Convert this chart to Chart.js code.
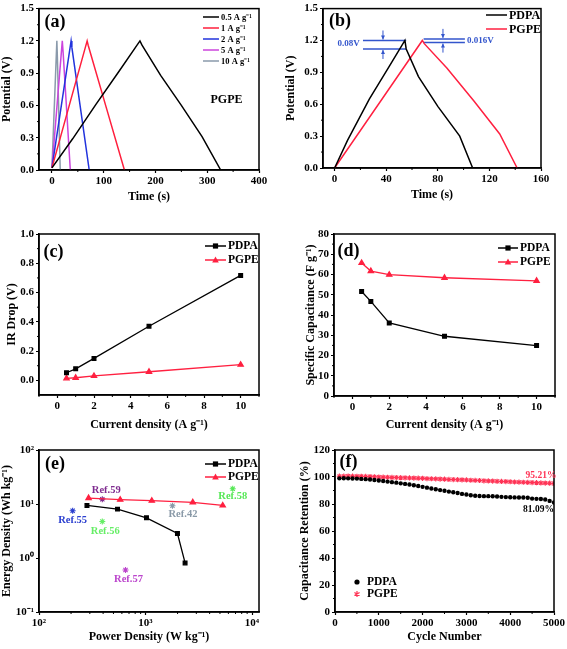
<!DOCTYPE html>
<html>
<head>
<meta charset="utf-8">
<script src="https://cdn.jsdelivr.net/npm/chart.js@4.4.1/dist/chart.umd.min.js"></script>
<style>
  html, body { margin: 0; padding: 0; background: #fff; }
  body { width: 567px; height: 649px; position: relative; overflow: hidden; }
  canvas { position: absolute; }
</style>
</head>
<body>
<canvas id="pa"></canvas>
<canvas id="pb"></canvas>
<canvas id="pc"></canvas>
<canvas id="pd"></canvas>
<canvas id="pe"></canvas>
<canvas id="pf"></canvas>
<script>
// ---- (a) PGPE charge/discharge at different current densities
const aLabels = ['0.5 A g⁻¹', '1 A g⁻¹', '2 A g⁻¹', '5 A g⁻¹', '10 A g⁻¹'];
const aTime05 = [0, 40, 85, 130, 170, 174, 210, 250, 290, 326];
const aPot05 = [0.02, 0.29, 0.61, 0.92, 1.2, 1.16, 0.88, 0.6, 0.31, 0];
const aTime1 = [0, 68, 70, 105, 140];
const aPot1 = [0.02, 1.2, 1.16, 0.58, 0];
const aTime2 = [0, 37, 38.5, 72];
const aPot2 = [0.02, 1.2, 1.14, 0];
const aTime5 = [0, 20, 21.5, 35.5];
const aPot5 = [0.02, 1.2, 1.1, 0];
const aTime10 = [0, 9.5, 10.5, 16];
const aPot10 = [0.02, 1.2, 1.05, 0];
const aXTicks = [0, 100, 200, 300, 400];
const potTicks = [0, 0.3, 0.6, 0.9, 1.2, 1.5];

// ---- (b) PDPA vs PGPE at 2 A g-1
const bTimePDPA = [0, 10, 27, 42, 54.5, 55.5, 65, 80, 97, 107];
const bPotPDPA = [0, 0.26, 0.65, 0.95, 1.2, 1.12, 0.86, 0.58, 0.3, 0];
const bTimePGPE = [0, 34, 68, 69.5, 87, 108, 128, 141.5];
const bPotPGPE = [0, 0.6, 1.2, 1.17, 0.94, 0.63, 0.32, 0];
const bIrSpanPDPA = [22, 55.5];
const bIrLevelsPDPA = [1.2, 1.12];
const bIrSpanPGPE = [69, 101];
const bIrLevelsPGPE = [1.215, 1.18];
const bIrText = ['0.08V', '0.016V'];
const bXTicks = [0, 40, 80, 120, 160];

// ---- (c), (d) vs current density
const currentDensity = [0.5, 1, 2, 5, 10];
const irPDPA = [0.052, 0.079, 0.15, 0.37, 0.717];
const irPGPE = [0.014, 0.018, 0.03, 0.059, 0.107];
const capPDPA = [51.6, 46.7, 36.1, 29.5, 24.9];
const capPGPE = [65.7, 61.7, 59.9, 58.4, 56.9];
const cdTicks = [0, 2, 4, 6, 8, 10];
const irTicks = [0, 0.2, 0.4, 0.6, 0.8, 1.0];
const capTicks = [0, 10, 20, 30, 40, 50, 60, 70, 80];

// ---- (e) Ragone plot
const powPDPA = [282, 546, 1021, 1995, 2353];
const engPDPA = [9.4, 8.04, 5.55, 2.84, 0.81];
const powPGPE = [292, 579, 1146, 2778, 5309];
const engPGPE = [12.9, 12.0, 11.5, 10.7, 9.4];
const refNames = ['Ref.55', 'Ref.59', 'Ref.56', 'Ref.42', 'Ref.58', 'Ref.57'];
const refPower = [207, 393, 393, 1791, 6590, 649];
const refEnergy = [7.5, 12.3, 4.75, 9.3, 19.2, 0.6];
const eXTicks = [100, 1000, 10000];
const eXLabels = ['10²', '10³', '10⁴'];
const eYTicks = [0.1, 1, 10, 100];
const eYLabels = ['10⁻¹', '10⁰', '10¹', '10²'];

// ---- (f) cycling
const fCycles = [100, 200, 300, 400, 500, 600, 700, 800, 900, 1000,
  1100, 1200, 1300, 1400, 1500, 1600, 1700, 1800, 1900, 2000,
  2100, 2200, 2300, 2400, 2500, 2600, 2700, 2800, 2900, 3000,
  3100, 3200, 3300, 3400, 3500, 3600, 3700, 3800, 3900, 4000,
  4100, 4200, 4300, 4400, 4500, 4600, 4700, 4800, 4900, 5000];
const fPDPA = [99.0, 99.1, 99.0, 98.9, 98.8, 98.6, 98.4, 98.1, 97.8, 97.4,
  97.0, 96.6, 96.2, 95.8, 95.3, 94.9, 94.4, 93.9, 93.3, 92.7,
  92.1, 91.5, 90.9, 90.3, 89.8, 89.2, 88.7, 88.1, 87.5, 87.0,
  86.5, 86.1, 85.9, 85.8, 85.8, 85.7, 85.5, 85.3, 85.1, 85.0,
  84.9, 84.8, 84.8, 84.6, 84.0, 83.8, 83.7, 83.3, 82.3, 81.09];
const fPGPE = [100.6, 100.6, 100.7, 100.6, 100.5, 100.5, 100.4, 100.3, 100.2, 100.0,
  99.9, 99.8, 99.7, 99.6, 99.5, 99.4, 99.3, 99.2, 99.1, 99.0,
  98.8, 98.7, 98.6, 98.5, 98.4, 98.2, 98.1, 98.0, 97.9, 97.8,
  97.6, 97.5, 97.4, 97.2, 97.1, 97.0, 96.8, 96.7, 96.6, 96.5,
  96.3, 96.2, 96.1, 96.0, 95.9, 95.8, 95.6, 95.5, 95.4, 95.21];
const fXTicks = [0, 1000, 2000, 3000, 4000, 5000];
const fYTicks = [0, 20, 40, 60, 80, 100, 120];

// ---- styles
const FONT = '"Liberation Serif", "Times New Roman", serif';
const RED = '#ff2040';
const BLUE = '#3355cc';
const aColors = ['#000000', '#ff1f3d', '#2233dd', '#cc44dd', '#8a9aab'];
const refColors = ['#2b3fcf', '#7f2b8f', '#66ee66', '#8a9aa8', '#55e855', '#bb44cc'];
const refLabelOffset = [[0, 10], [4, -9], [3, 9.5], [10.5, 8.5], [0, 8], [3, 9.3]];

const pts = (xs, ys) => xs.map((x, i) => ({ x: x, y: ys[i] }));

function marker(ctx, style, x, y, r, color) {
  ctx.save();
  ctx.fillStyle = color; ctx.strokeStyle = color; ctx.lineWidth = 1.2;
  ctx.beginPath();
  if (style === 'rect') {
    ctx.fillRect(x - r, y - r, 2 * r, 2 * r);
  } else if (style === 'triangle') {
    ctx.moveTo(x, y - r * 1.2); ctx.lineTo(x + r * 1.1, y + r * 0.8); ctx.lineTo(x - r * 1.1, y + r * 0.8);
    ctx.closePath(); ctx.fill();
  } else if (style === 'circle') {
    ctx.arc(x, y, r, 0, Math.PI * 2); ctx.fill();
  } else if (style === 'star') {
    for (let k = 0; k < 3; k++) {
      const a = Math.PI / 2 + k * Math.PI / 3;
      ctx.moveTo(x + r * Math.cos(a), y - r * Math.sin(a));
      ctx.lineTo(x - r * Math.cos(a), y + r * Math.sin(a));
    }
    ctx.stroke();
  }
  ctx.restore();
}

// frame, minor ticks, panel label, legend and free texts
function decor(cfg) {
  return {
    id: 'decor',
    afterDatasetsDraw(chart) {
      const { ctx, chartArea: ca, scales } = chart;
      ctx.save();
      ctx.strokeStyle = '#000';
      ctx.lineWidth = 1;
      (cfg.minorX || []).forEach(v => {
        const px = scales.x.getPixelForValue(v);
        ctx.beginPath(); ctx.moveTo(px, ca.bottom); ctx.lineTo(px, ca.bottom + 2); ctx.stroke();
      });
      (cfg.minorY || []).forEach(v => {
        const py = scales.y.getPixelForValue(v);
        ctx.beginPath(); ctx.moveTo(ca.left, py); ctx.lineTo(ca.left - 2, py); ctx.stroke();
      });
      ctx.lineWidth = 1.5;
      ctx.strokeRect(ca.left, ca.top, ca.width, ca.height);

      ctx.textBaseline = 'middle';
      ctx.fillStyle = '#000';
      ctx.font = 'bold 18px ' + FONT;
      ctx.textAlign = 'center';
      ctx.fillText(cfg.label[0], cfg.label[1] - cfg.L, cfg.label[2] - cfg.T);

      (cfg.legend || []).forEach(it => {
        const x = it.x - cfg.L, y = it.y - cfg.T;
        if (it.len) {
          ctx.strokeStyle = it.color; ctx.lineWidth = 1.5;
          ctx.beginPath(); ctx.moveTo(x, y); ctx.lineTo(x + it.len, y); ctx.stroke();
        }
        if (it.marker) marker(ctx, it.marker, x + (it.len || 0) / 2, y, it.r || 2.5, it.color);
        ctx.fillStyle = '#000';
        ctx.font = 'bold ' + it.size + 'px ' + FONT;
        ctx.textAlign = 'left';
        ctx.fillText(it.text, (it.tx ? it.tx - cfg.L : x + it.len + 2), y + 0.5);
      });

      (cfg.texts || []).forEach(t => {
        ctx.fillStyle = t.color || '#000';
        ctx.font = 'bold ' + t.size + 'px ' + FONT;
        ctx.textAlign = 'center';
        ctx.fillText(t.text, t.x - cfg.L, t.y - cfg.T);
      });
      if (cfg.extra) cfg.extra(chart, ctx);
      ctx.restore();
    }
  };
}

function axis(o) {
  return {
    type: o.type || 'linear',
    min: o.min, max: o.max,
    border: { color: '#000', width: 1.5 },
    grid: { drawOnChartArea: false, tickLength: 3, tickColor: '#000', tickWidth: 1.2 },
    ticks: {
      color: '#000', padding: 2, autoSkip: false, maxRotation: 0,
      font: { family: FONT, size: 11, weight: 'bold' },
      callback: o.fmt
    },
    title: {
      display: true, text: o.title, color: '#000',
      font: { family: FONT, size: 12, weight: 'bold' },
      padding: { top: 0, bottom: 0 }
    },
    afterBuildTicks: s => { s.ticks = o.ticks.map(v => ({ value: v })); },
    afterFit: s => { if (o.w) s.width = o.w; if (o.h) s.height = o.h; }
  };
}

function panel(id, box, datasets, xo, yo, cfg) {
  const cv = document.getElementById(id);
  cv.width = box.W; cv.height = box.H;
  cv.style.left = box.L + 'px'; cv.style.top = box.T + 'px';
  cfg.L = box.L; cfg.T = box.T;
  return new Chart(cv, {
    type: 'line',
    data: { datasets: datasets },
    options: {
      responsive: false, animation: false, devicePixelRatio: 1,
      layout: { padding: { top: box.pt, right: box.pr, bottom: 0, left: 0 } },
      plugins: { legend: { display: false }, tooltip: { enabled: false } },
      elements: { line: { tension: 0 } },
      scales: {
        x: axis(Object.assign({}, xo, { h: box.xh })),
        y: axis(Object.assign({}, yo, { w: box.yw }))
      }
    },
    plugins: [decor(cfg)]
  });
}

const curve = (data, color, w) => ({ data: data, borderColor: color, borderWidth: w || 1.5, pointRadius: 0, fill: false });
const fmt1 = v => Number(v).toFixed(1);
const fmt0 = v => String(v);

// (a)
const aSeries = [[aTime05, aPot05], [aTime1, aPot1], [aTime2, aPot2], [aTime5, aPot5], [aTime10, aPot10]];
panel('pa', { L: 0, T: 0, W: 285, H: 204, pt: 8, pr: 26, yw: 39, xh: 34 },
  aSeries.map((s, i) => curve(pts(s[0], s[1]), aColors[i])),
  { min: -25, max: 400, ticks: aXTicks, fmt: fmt0, title: 'Time (s)' },
  { min: 0, max: 1.5, ticks: potTicks, fmt: fmt1, title: 'Potential (V)' },
  {
    label: ['(a)', 55, 22.5],
    minorX: [50, 150, 250, 350], minorY: [0.15, 0.45, 0.75, 1.05, 1.35],
    legend: aLabels.map((t, i) => ({ x: 203, y: 17 + 11 * i, len: 16, color: aColors[i], text: t, size: 8.5 })),
    texts: [{ text: 'PGPE', x: 226.5, y: 100, size: 12 }]
  });

// (b)
const bDatasets = [
  curve(pts(bTimePDPA, bPotPDPA), '#000'),
  curve(pts(bTimePGPE, bPotPGPE), RED)
];
bIrLevelsPDPA.forEach(v => bDatasets.push(curve(pts(bIrSpanPDPA, [v, v]), BLUE, 1.5)));
bIrLevelsPGPE.forEach(v => bDatasets.push(curve(pts(bIrSpanPGPE, [v, v]), BLUE, 1.5)));
const bArrowX = [37.5, 84];
panel('pb', { L: 284, T: 0, W: 283, H: 202, pt: 7, pr: 26, yw: 39, xh: 34 },
  bDatasets,
  { min: -9, max: 160, ticks: bXTicks, fmt: fmt0, title: 'Time (s)' },
  { min: 0, max: 1.5, ticks: potTicks, fmt: fmt1, title: 'Potential (V)' },
  {
    label: ['(b)', 340, 21.5],
    minorX: [20, 60, 100, 140], minorY: [0.15, 0.45, 0.75, 1.05, 1.35],
    legend: [
      { x: 486, y: 15, len: 21, color: '#000', text: 'PDPA', size: 12 },
      { x: 486, y: 29, len: 21, color: RED, text: 'PGPE', size: 12 }
    ],
    texts: [
      { text: bIrText[0], x: 348.7, y: 43.5, size: 9, color: BLUE },
      { text: bIrText[1], x: 480.3, y: 41, size: 9, color: BLUE }
    ],
    extra: (chart, ctx) => {
      const sx = chart.scales.x, sy = chart.scales.y;
      const levels = [bIrLevelsPDPA, bIrLevelsPGPE];
      ctx.strokeStyle = BLUE; ctx.fillStyle = BLUE; ctx.lineWidth = 1;
      bArrowX.forEach((xv, i) => {
        const px = sx.getPixelForValue(xv);
        const top = sy.getPixelForValue(levels[i][0]) - 1;
        const bot = sy.getPixelForValue(levels[i][1]) + 1;
        [[top, -1], [bot, 1]].forEach(([tip, dir]) => {
          ctx.beginPath(); ctx.moveTo(px, tip + dir * 9); ctx.lineTo(px, tip); ctx.stroke();
          ctx.beginPath(); ctx.moveTo(px, tip); ctx.lineTo(px - 2, tip + dir * 4); ctx.lineTo(px + 2, tip + dir * 4);
          ctx.closePath(); ctx.fill();
        });
      });
    }
  });

// (c)
const markerSet = (data, color, style, r) => ({ data: data, borderColor: color, backgroundColor: color, borderWidth: 1.3, pointStyle: style, pointRadius: r, fill: false });
panel('pc', { L: 5, T: 215, W: 280, H: 217, pt: 19, pr: 26, yw: 34, xh: 37 },
  [markerSet(pts(currentDensity, irPDPA), '#000', 'rect', 2.6),
   markerSet(pts(currentDensity, irPGPE), RED, 'triangle', 3)],
  { min: -1, max: 11, ticks: cdTicks, fmt: fmt0, title: 'Current density (A g⁻¹)' },
  { min: -0.1, max: 1.0, ticks: irTicks, fmt: fmt1, title: 'IR Drop (V)' },
  {
    label: ['(c)', 53.5, 252],
    minorX: [-1, 1, 3, 5, 7, 9, 11], minorY: [0.1, 0.3, 0.5, 0.7, 0.9],
    legend: [
      { x: 205, y: 246, len: 21, color: '#000', marker: 'rect', r: 2.6, text: 'PDPA', size: 11.5 },
      { x: 205, y: 260, len: 21, color: RED, marker: 'triangle', r: 3, text: 'PGPE', size: 11.5 }
    ]
  });

// (d)
panel('pd', { L: 304, T: 215, W: 263, H: 217, pt: 19, pr: 12, yw: 30, xh: 36 },
  [markerSet(pts(currentDensity, capPDPA), '#000', 'rect', 2.6),
   markerSet(pts(currentDensity, capPGPE), RED, 'triangle', 3)],
  { min: -1, max: 11, ticks: cdTicks, fmt: fmt0, title: 'Current density (A g⁻¹)' },
  { min: 0, max: 80, ticks: capTicks, fmt: fmt0, title: 'Specific Capacitance (F g⁻¹)' },
  {
    label: ['(d)', 348.5, 251.5],
    minorX: [-1, 1, 3, 5, 7, 9, 11], minorY: [5, 15, 25, 35, 45, 55, 65, 75],
    legend: [
      { x: 498, y: 248, len: 20, color: '#000', marker: 'rect', r: 2.6, text: 'PDPA', size: 11.5 },
      { x: 498, y: 262, len: 20, color: RED, marker: 'triangle', r: 3, text: 'PGPE', size: 11.5 }
    ]
  });

// (e)
const eDatasets = [
  markerSet(pts(powPDPA, engPDPA), '#000', 'rect', 2.6),
  markerSet(pts(powPGPE, engPGPE), RED, 'triangle', 3)
];
refNames.forEach((n, i) => eDatasets.push({
  data: [{ x: refPower[i], y: refEnergy[i] }], showLine: false,
  pointStyle: 'star', pointRadius: 3, borderWidth: 1.1,
  borderColor: refColors[i], backgroundColor: refColors[i]
}));
panel('pe', { L: 0, T: 432, W: 285, H: 212, pt: 18, pr: 26, yw: 39, xh: 32 },
  eDatasets,
  { type: 'logarithmic', min: 100, max: 11630, ticks: eXTicks, fmt: (v, i) => eXLabels[i], title: 'Power Density (W kg⁻¹)' },
  { type: 'logarithmic', min: 0.1, max: 100, ticks: eYTicks, fmt: (v, i) => eYLabels[i], title: 'Energy Density (Wh kg⁻¹)' },
  {
    label: ['(e)', 55, 464],
    minorX: [200, 300, 400, 500, 600, 700, 800, 900, 2000, 3000, 4000, 5000, 6000, 7000, 8000, 9000],
    legend: [
      { x: 205, y: 464, len: 21, color: '#000', marker: 'rect', r: 2.6, text: 'PDPA', size: 11.5 },
      { x: 205, y: 477, len: 21, color: RED, marker: 'triangle', r: 3, text: 'PGPE', size: 11.5 }
    ],
    extra: (chart, ctx) => {
      const sx = chart.scales.x, sy = chart.scales.y;
      ctx.font = 'bold 10.5px ' + FONT;
      ctx.textAlign = 'center'; ctx.textBaseline = 'middle';
      refNames.forEach((n, i) => {
        ctx.fillStyle = refColors[i];
        ctx.fillText(n, sx.getPixelForValue(refPower[i]) + refLabelOffset[i][0],
          sy.getPixelForValue(refEnergy[i]) + refLabelOffset[i][1]);
      });
    }
  });

// (f)
const F_RED = '#ff3355';
panel('pf', { L: 298, T: 432, W: 269, H: 212, pt: 18, pr: 12, yw: 37, xh: 32 },
  [
    { data: pts(fCycles, fPDPA), showLine: false, pointStyle: 'circle', pointRadius: 2.2, borderWidth: 0, backgroundColor: '#000', borderColor: '#000' },
    { data: pts(fCycles, fPGPE), showLine: false, pointStyle: 'star', pointRadius: 2.6, borderWidth: 1.1, backgroundColor: F_RED, borderColor: F_RED }
  ],
  { min: 0, max: 5000, ticks: fXTicks, fmt: fmt0, title: 'Cycle Number' },
  { min: 0, max: 120, ticks: fYTicks, fmt: fmt0, title: 'Capacitance Retention (%)' },
  {
    label: ['(f)', 348.5, 462.5],
    minorX: [500, 1500, 2500, 3500, 4500], minorY: [10, 30, 50, 70, 90, 110],
    legend: [
      { x: 357, y: 582, len: 0, color: '#000', marker: 'circle', r: 2.6, text: 'PDPA', size: 11.5, tx: 367 },
      { x: 357, y: 594, len: 0, color: F_RED, marker: 'star', r: 3, text: 'PGPE', size: 11.5, tx: 367 }
    ],
    texts: [
      { text: '95.21%', x: 541, y: 475.5, size: 9.5, color: F_RED },
      { text: '81.09%', x: 538.5, y: 510, size: 9.5 }
    ]
  });
</script>
</body>
</html>
